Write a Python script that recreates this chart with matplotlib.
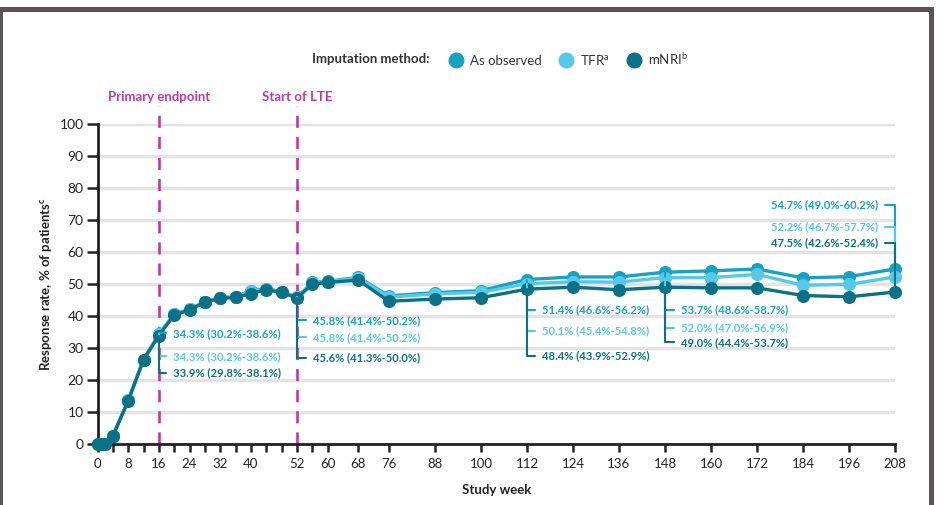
import matplotlib
matplotlib.use("Agg")
import matplotlib.pyplot as plt
from matplotlib.lines import Line2D
from matplotlib.patches import Rectangle

# ---------------- data ----------------
weeks = [0, 1, 2, 4, 8, 12, 16, 20, 24, 28, 32, 36, 40, 44, 48, 52, 56, 60, 68,
         76, 88, 100, 112, 124, 136, 148, 160, 172, 184, 196, 208]
as_observed = [0, 0, 0, 2.5, 13.6, 26.4, 34.3, 40.5, 42.1, 44.5, 45.7, 46.0, 47.9, 48.5,
               47.6, 45.8, 50.5, 50.8, 52.1, 46.3, 47.3, 47.9, 51.4, 52.2, 52.2, 53.7,
               54.1, 54.7, 51.9, 52.3, 54.7]
tfr = [0, 0, 0, 2.5, 13.6, 26.4, 34.3, 40.5, 42.1, 44.5, 45.7, 46.0, 47.7, 48.4,
       47.5, 45.8, 50.3, 50.7, 51.9, 45.9, 46.9, 47.4, 50.1, 50.7, 50.6, 52.0,
       52.0, 53.0, 49.6, 49.9, 52.2]
mnri = [0, 0, 0, 2.5, 13.5, 26.3, 33.9, 40.3, 41.9, 44.3, 45.5, 45.8, 47.0, 48.2,
        47.4, 45.6, 49.9, 50.5, 51.2, 44.6, 45.3, 45.7, 48.4, 49.0, 48.2, 49.0,
        48.8, 48.8, 46.4, 46.0, 47.5]

series_names = ["As observed", "TFR$^\\mathregular{a}$", "mNRI$^\\mathregular{b}$"]
series_colors = ["#17a2c4", "#55c9ea", "#0a7186"]

tick_positions = [0, 4, 8, 12, 16, 20, 24, 28, 32, 36, 40, 44, 48, 52, 56, 60, 68,
                  76, 88, 100, 112, 124, 136, 148, 160, 172, 184, 196, 208]
tick_labels = ["0", "", "8", "", "16", "", "24", "", "32", "", "40", "", "", "52", "",
               "60", "68", "76", "88", "100", "112", "124", "136", "148", "160",
               "172", "184", "196", "208"]

annot_weeks = [16, 52, 112, 148, 208]
annot_as_observed = ["34.3% (30.2%-38.6%)", "45.8% (41.4%-50.2%)", "51.4% (46.6%-56.2%)",
                     "53.7% (48.6%-58.7%)", "54.7% (49.0%-60.2%)"]
annot_tfr = ["34.3% (30.2%-38.6%)", "45.8% (41.4%-50.2%)", "50.1% (45.4%-54.8%)",
             "52.0% (47.0%-56.9%)", "52.2% (46.7%-57.7%)"]
annot_mnri = ["33.9% (29.8%-38.1%)", "45.6% (41.3%-50.0%)", "48.4% (43.9%-52.9%)",
              "49.0% (44.4%-53.7%)", "47.5% (42.6%-52.4%)"]

ref_weeks = [16, 52]
ref_labels = ["Primary endpoint", "Start of LTE"]

# ---------------- figure ----------------
plt.rcParams["font.family"] = ["Lato", "DejaVu Sans"]
W, H = 943, 505
fig = plt.figure(figsize=(W / 100, H / 100), dpi=100)
fig.patch.set_facecolor("white")

ax = fig.add_axes([97.5 / W, (H - 444) / H, (895 - 97.5) / W, 320 / H])
ax.set_xlim(0, 208)
ax.set_ylim(0, 100)

# grid
ax.set_yticks(range(0, 101, 10))
ax.yaxis.grid(True, color="#e3e3e3", lw=2.5)
ax.set_axisbelow(True)

for s in ["top", "right"]:
    ax.spines[s].set_visible(False)
for s in ["left", "bottom"]:
    ax.spines[s].set_linewidth(2)
    ax.spines[s].set_color("#222222")

ax.set_xticks(tick_positions)
ax.set_xticklabels(tick_labels)
ax.tick_params(axis="x", length=6, width=1.8, color="#222222", labelsize=9.5, pad=4,
               labelcolor="#222222")
ax.tick_params(axis="y", length=8, width=1.8, color="#222222", labelsize=10, pad=2,
               labelcolor="#222222")

ax.set_xlabel("Study week", fontsize=9.5, fontweight="bold", color="#222222", labelpad=10)
ax.set_ylabel("Response rate, % of patients$^\\mathregular{c}$", fontsize=9.5,
              fontweight="bold", color="#222222", labelpad=4)

# reference lines
magenta = "#bf3a9e"
for wk, lab in zip(ref_weeks, ref_labels):
    ax.plot([wk, wk], [0, 105.5], color=magenta, lw=1.9, ls=(0, (4.6, 3.4)),
            clip_on=False, zorder=1)
    ax.text(wk, 108.4, lab, color=magenta, fontsize=9.5, fontweight="bold",
            ha="center", va="center", clip_on=False)

# series
all_series = [as_observed, tfr, mnri]
for vals, name, col in zip(all_series, series_names, series_colors):
    ax.plot(weeks, vals, color=col, lw=2.4, marker="o", ms=8.4, mec=col, mfc=col,
            clip_on=False, zorder=3, label=name)

# annotations (offsets in pixels)
offsets = {
    16: [(14, 1), (14, -22), (14, -37)],
    52: [(16, -23), (16, -40), (16, -60)],
    112: [(15, -30), (15, -47), (15, -67)],
    148: [(16, -38), (16, -50), (16, -55)],
    208: [(-17, 64), (-17, 50), (-17, 49)],
}
annot_lists = [annot_as_observed, annot_tfr, annot_mnri]
for i, wk in enumerate(annot_weeks):
    idx = weeks.index(wk)
    for k in range(3):
        dx, dy = offsets[wk][k]
        right = dx < 0
        ax.annotate(annot_lists[k][i], xy=(wk, all_series[k][idx]),
                    xytext=(dx, dy), textcoords="offset pixels",
                    ha="right" if right else "left", va="center",
                    fontsize=8.1, fontweight="bold", color=series_colors[k],
                    annotation_clip=False, zorder=5,
                    arrowprops=dict(arrowstyle="-", color=series_colors[k], lw=1.5,
                                    connectionstyle="angle,angleA=0,angleB=90,rad=0",
                                    shrinkA=3, shrinkB=0,
                                    relpos=(1, 0.5) if right else (0, 0.5)))

# legend
handles = [Line2D([], [], marker="o", ls="none", ms=10.5, mfc=c, mec=c)
           for c in series_colors]
fig.text(430 / W, 1 - 59 / H, "Imputation method:", fontsize=9.5, fontweight="bold",
         color="#333333", ha="right", va="center")
fig.legend(handles, series_names, loc="center left", bbox_to_anchor=(448 / W, 1 - 59 / H),
           ncol=3, frameon=False, fontsize=9.5, handletextpad=0.5, columnspacing=1.2,
           handlelength=1.2, labelcolor="#333333", borderaxespad=0, borderpad=0)

# frame
frame_col = "#5b5356"
fig.add_artist(Rectangle((0, 1 - 12 / H), 934 / W, 5 / H, transform=fig.transFigure,
                         facecolor=frame_col, edgecolor="none"))
fig.add_artist(Rectangle((0, 0), 3 / W, 1 - 8 / H, transform=fig.transFigure,
                         facecolor=frame_col, edgecolor="none"))
fig.add_artist(Rectangle((929 / W, 0), 5 / W, 1 - 8 / H, transform=fig.transFigure,
                         facecolor=frame_col, edgecolor="none"))

fig.savefig("out.png", dpi=100)
